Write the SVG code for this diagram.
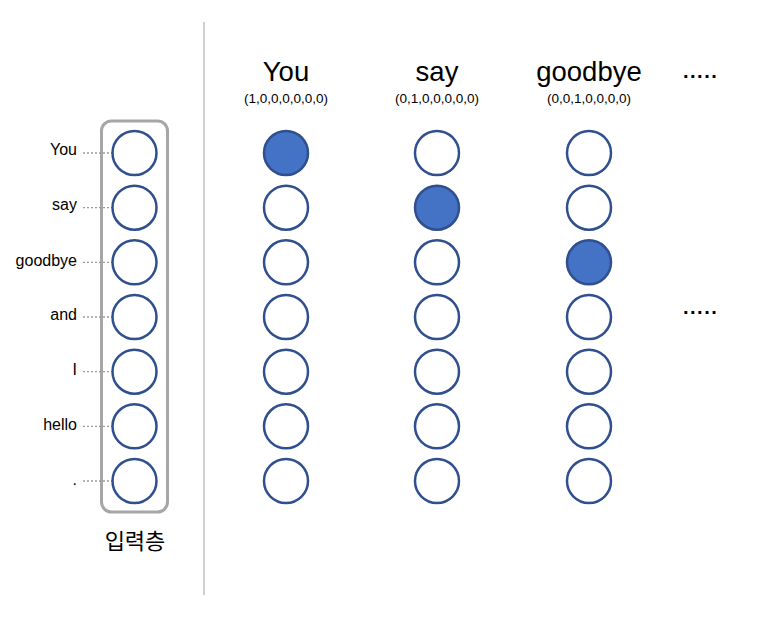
<svg xmlns="http://www.w3.org/2000/svg" width="762" height="618" viewBox="0 0 762 618">
<style>
.n{fill:#fff;stroke:#2f4f8f;stroke-width:2.5}
.f{fill:#4472c4;stroke:#2f4f8f;stroke-width:2.5}
.lbl{font-family:"Liberation Sans",Arial,sans-serif;font-size:16px;fill:#000;text-anchor:end}
.hd{font-family:"Liberation Sans",Arial,sans-serif;font-size:27.5px;fill:#000;text-anchor:middle}
.vec{font-family:"Liberation Sans",Arial,sans-serif;font-size:13.5px;fill:#000;text-anchor:middle}
.dot{stroke:#999;stroke-width:1.3;stroke-dasharray:2 2}
.dots{font-family:"Liberation Sans",Arial,sans-serif;font-size:20px;font-weight:bold;fill:#000;letter-spacing:1.5px}
</style>
<rect width="762" height="618" fill="#fff"/>
<line x1="204" y1="22" x2="204" y2="595" stroke="#d0d0d0" stroke-width="2"/>
<g id="input-layer">
<rect x="101.5" y="121" width="66" height="391" rx="10" fill="none" stroke="#a6a6a6" stroke-width="3"/>
<text x="135" y="549" font-family="'Noto Sans CJK KR',sans-serif" font-size="22" text-anchor="middle">입력층</text>
</g>
<g id="connectors">
<line class="dot" x1="83" y1="153" x2="112" y2="153"/>
<line class="dot" x1="83" y1="207.7" x2="112" y2="207.7"/>
<line class="dot" x1="83" y1="262.3" x2="112" y2="262.3"/>
<line class="dot" x1="83" y1="317" x2="112" y2="317"/>
<line class="dot" x1="83" y1="371.7" x2="112" y2="371.7"/>
<line class="dot" x1="83" y1="426.3" x2="112" y2="426.3"/>
<line class="dot" x1="83" y1="481" x2="112" y2="481"/>
</g>
<g id="labels">
<text class="lbl" x="77" y="155">You</text>
<text class="lbl" x="77" y="210">say</text>
<text class="lbl" x="77" y="266">goodbye</text>
<text class="lbl" x="77" y="320">and</text>
<text class="lbl" x="77" y="375">I</text>
<text class="lbl" x="77" y="430">hello</text>
<text class="lbl" x="77" y="485">.</text>
</g>
<g id="col0">
<circle class="n" cx="134.5" cy="153" r="22"/>
<circle class="n" cx="134.5" cy="207.7" r="22"/>
<circle class="n" cx="134.5" cy="262.3" r="22"/>
<circle class="n" cx="134.5" cy="317" r="22"/>
<circle class="n" cx="134.5" cy="371.7" r="22"/>
<circle class="n" cx="134.5" cy="426.3" r="22"/>
<circle class="n" cx="134.5" cy="481" r="22"/>
</g>
<g id="col-you">
<text class="hd" x="286" y="81">You</text>
<text class="vec" x="286" y="103">(1,0,0,0,0,0,0)</text>
<circle class="f" cx="286" cy="153" r="22"/>
<circle class="n" cx="286" cy="207.7" r="22"/>
<circle class="n" cx="286" cy="262.3" r="22"/>
<circle class="n" cx="286" cy="317" r="22"/>
<circle class="n" cx="286" cy="371.7" r="22"/>
<circle class="n" cx="286" cy="426.3" r="22"/>
<circle class="n" cx="286" cy="481" r="22"/>
</g>
<g id="col-say">
<text class="hd" x="437" y="81">say</text>
<text class="vec" x="437" y="103">(0,1,0,0,0,0,0)</text>
<circle class="n" cx="437" cy="153" r="22"/>
<circle class="f" cx="437" cy="207.7" r="22"/>
<circle class="n" cx="437" cy="262.3" r="22"/>
<circle class="n" cx="437" cy="317" r="22"/>
<circle class="n" cx="437" cy="371.7" r="22"/>
<circle class="n" cx="437" cy="426.3" r="22"/>
<circle class="n" cx="437" cy="481" r="22"/>
</g>
<g id="col-goodbye">
<text class="hd" x="589" y="81">goodbye</text>
<text class="vec" x="589" y="103">(0,0,1,0,0,0,0)</text>
<circle class="n" cx="589" cy="153" r="22"/>
<circle class="n" cx="589" cy="207.7" r="22"/>
<circle class="f" cx="589" cy="262.3" r="22"/>
<circle class="n" cx="589" cy="317" r="22"/>
<circle class="n" cx="589" cy="371.7" r="22"/>
<circle class="n" cx="589" cy="426.3" r="22"/>
<circle class="n" cx="589" cy="481" r="22"/>
</g>
<g id="ellipsis">
<text class="dots" x="683" y="78">.....</text>
<text class="dots" x="683" y="314">.....</text>
</g>
</svg>
